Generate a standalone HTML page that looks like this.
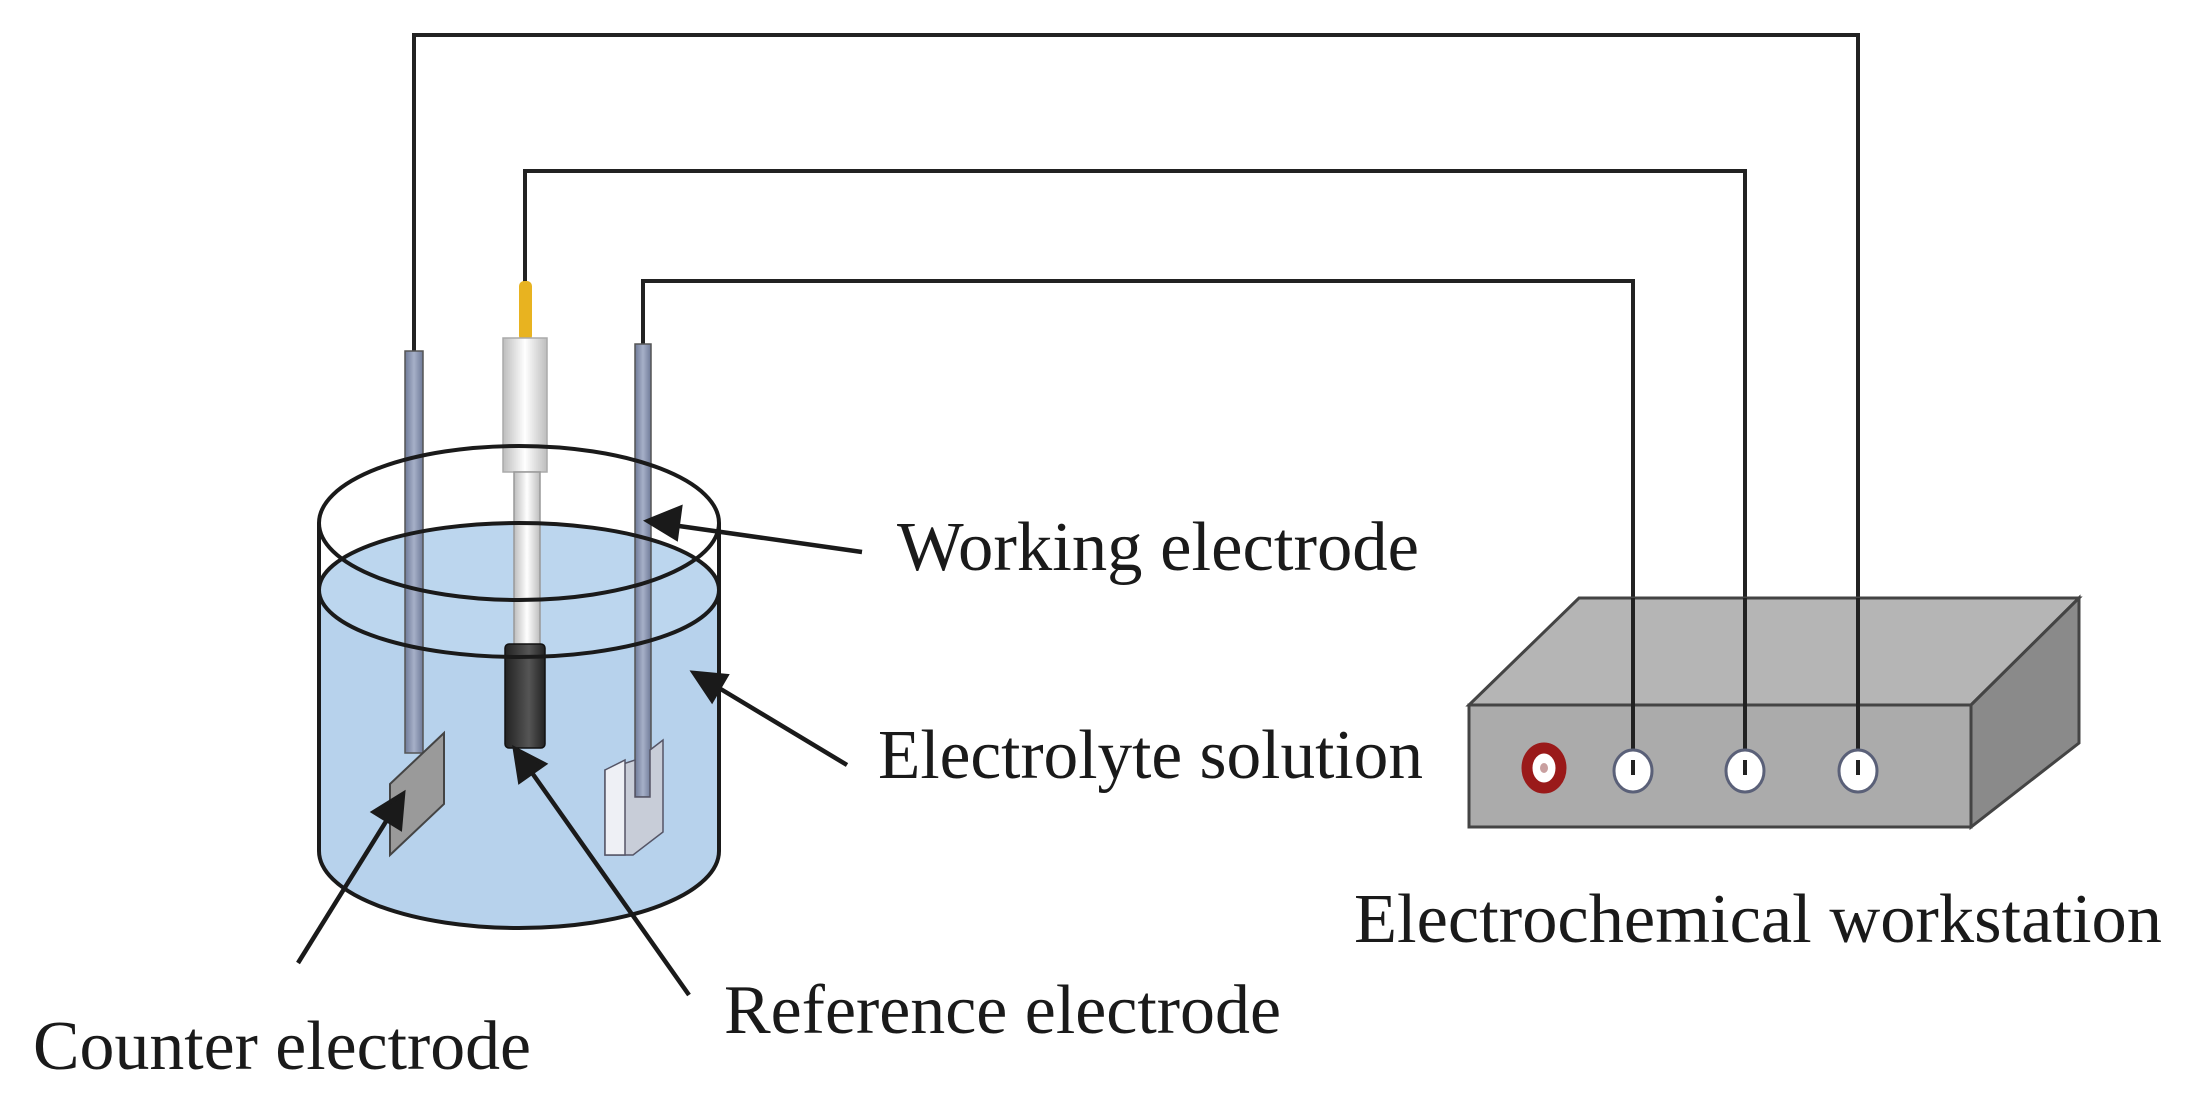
<!DOCTYPE html>
<html><head><meta charset="utf-8"><style>
html,body{margin:0;padding:0;background:#fff;}
svg{display:block;}
text{font-family:"Liberation Serif",serif;fill:#1a1a1a;}
</style></head><body>
<svg width="2193" height="1098" viewBox="0 0 2193 1098" xmlns="http://www.w3.org/2000/svg">
<defs>
<linearGradient id="rod" x1="0" x2="1"><stop offset="0" stop-color="#6f7a98"/><stop offset="0.5" stop-color="#a6b0c8"/><stop offset="1" stop-color="#6f7a98"/></linearGradient>
<linearGradient id="wt" x1="0" x2="1"><stop offset="0" stop-color="#bdbdbd"/><stop offset="0.5" stop-color="#ffffff"/><stop offset="1" stop-color="#bdbdbd"/></linearGradient>
<linearGradient id="blk" x1="0" x2="1"><stop offset="0" stop-color="#222"/><stop offset="0.6" stop-color="#555"/><stop offset="1" stop-color="#222"/></linearGradient>
</defs>

<!-- wires -->
<g fill="none" stroke="#222" stroke-width="4">
<polyline points="414,351 414,35 1858,35 1858,768"/>
<polyline points="525,284 525,171 1745,171 1745,768"/>
<polyline points="643,344 643,281 1633,281 1633,768"/>
</g>

<!-- beaker water -->
<path d="M319,590 L319,851 A200,77 0 0 0 719,851 L719,590 A200,67 0 0 1 319,590 Z" fill="#b7d2ec"/>
<ellipse cx="519" cy="590" rx="200" ry="67" fill="#bcd6ee"/>

<!-- counter electrode -->
<rect x="405" y="351" width="18" height="402" fill="url(#rod)" stroke="#555" stroke-width="1.5"/>
<polygon points="390,784 444,733 444,804 390,855" fill="#9a9a9a" stroke="#444" stroke-width="2"/>

<!-- reference electrode -->
<rect x="519" y="281" width="13" height="60" rx="5" fill="#e8b320"/>
<rect x="503" y="338" width="44" height="134" fill="url(#wt)" stroke="#aaa" stroke-width="1.5"/>
<rect x="514" y="472" width="26" height="175" fill="url(#wt)" stroke="#999" stroke-width="1.5"/>
<rect x="505" y="644" width="40" height="104" rx="4" fill="url(#blk)" stroke="#111" stroke-width="1.5"/>

<!-- working electrode -->
<rect x="635" y="344" width="16" height="453" fill="url(#rod)" stroke="#555" stroke-width="1.5"/>
<polygon points="605,770 605,855 633,855 663,832 663,740 650,750 650,797 635,797 635,760" fill="#c8cdd8" stroke="#556" stroke-width="1.5"/>
<polygon points="605,770 625,760 625,855 605,855" fill="#eef0f5" stroke="#556" stroke-width="1.5"/>

<!-- beaker outlines -->
<g fill="none" stroke="#1a1a1a" stroke-width="4">
<ellipse cx="519" cy="523" rx="200" ry="77"/>
<ellipse cx="519" cy="590" rx="200" ry="67"/>
<line x1="319" y1="523" x2="319" y2="851"/>
<line x1="719" y1="523" x2="719" y2="851"/>
<path d="M319,851 A200,77 0 0 0 719,851"/>
</g>

<!-- arrows -->
<g stroke="#1a1a1a" stroke-width="4.5" fill="#1a1a1a">
<line x1="862" y1="552" x2="672" y2="525"/>
<polygon points="648,521 680,508 676,538"/>
<line x1="847" y1="765" x2="714" y2="685"/>
<polygon points="694,673 726,676 712,700"/>
<line x1="298" y1="963" x2="390" y2="815"/>
<polygon points="403,794 400,828 374,812"/>
<line x1="689" y1="995" x2="530" y2="770"/>
<polygon points="515,749 544,764 520,781"/>
</g>

<!-- workstation -->
<polygon points="1469,705 1579,598 2079,598 1971,705" fill="#b5b5b5" stroke="#444" stroke-width="3"/>
<polygon points="1971,705 2079,598 2079,743 1971,827" fill="#8a8a8a" stroke="#444" stroke-width="3"/>
<rect x="1469" y="705" width="502" height="122" fill="#ababab" stroke="#444" stroke-width="3"/>
<g fill="none" stroke="#222" stroke-width="4">
<line x1="1633" y1="598" x2="1633" y2="768"/>
<line x1="1745" y1="598" x2="1745" y2="768"/>
<line x1="1858" y1="598" x2="1858" y2="768"/>
</g>
<ellipse cx="1544" cy="768" rx="17" ry="20" fill="#fff" stroke="#9a1a1a" stroke-width="11"/>
<ellipse cx="1544" cy="768" rx="4" ry="5" fill="#c9a0a0"/>
<g fill="#fff" stroke="#5a6078" stroke-width="3">
<ellipse cx="1633" cy="771" rx="19" ry="21"/>
<ellipse cx="1745" cy="771" rx="19" ry="21"/>
<ellipse cx="1858" cy="771" rx="19" ry="21"/>
</g>
<g stroke="#222" stroke-width="4">
<line x1="1633" y1="760" x2="1633" y2="775"/>
<line x1="1745" y1="760" x2="1745" y2="775"/>
<line x1="1858" y1="760" x2="1858" y2="775"/>
</g>

<!-- labels -->
<text x="897" y="570" font-size="70" textLength="522" lengthAdjust="spacingAndGlyphs">Working electrode</text>
<text x="878" y="778" font-size="70" textLength="545" lengthAdjust="spacingAndGlyphs">Electrolyte solution</text>
<text x="1354" y="942" font-size="70" textLength="808" lengthAdjust="spacingAndGlyphs">Electrochemical workstation</text>
<text x="724" y="1033" font-size="70" textLength="557" lengthAdjust="spacingAndGlyphs">Reference electrode</text>
<text x="33" y="1069" font-size="70" textLength="498" lengthAdjust="spacingAndGlyphs">Counter electrode</text>
</svg>
</body></html>
